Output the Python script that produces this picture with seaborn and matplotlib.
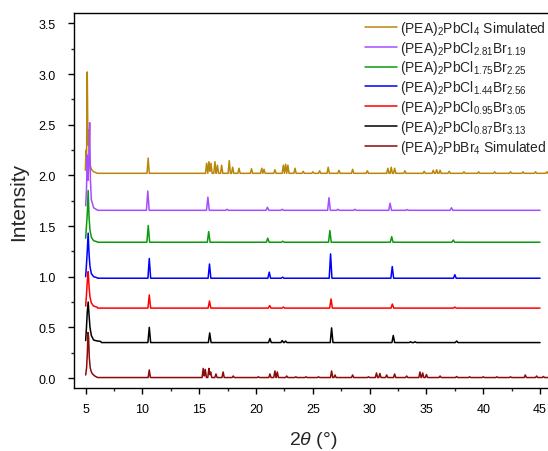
import numpy as np
import pandas as pd
import matplotlib
matplotlib.use("Agg")
import matplotlib.pyplot as plt
import seaborn as sns
from matplotlib.ticker import MultipleLocator, FormatStrFormatter

# ---------------- data ----------------
labels = [
    r"(PEA)$_2$PbCl$_4$ Simulated",
    r"(PEA)$_2$PbCl$_{2.81}$Br$_{1.19}$",
    r"(PEA)$_2$PbCl$_{1.75}$Br$_{2.25}$",
    r"(PEA)$_2$PbCl$_{1.44}$Br$_{2.56}$",
    r"(PEA)$_2$PbCl$_{0.95}$Br$_{3.05}$",
    r"(PEA)$_2$PbCl$_{0.87}$Br$_{3.13}$",
    r"(PEA)$_2$PbBr$_4$ Simulated",
]
colors = ["#B8860B", "#A64DFF", "#0E9A0E", "#0000FF", "#FF0000", "#000000", "#8B0A0A"]

baselines = [2.02, 1.655, 1.34, 0.985, 0.69, 0.35, 0.005]
x_end = [46.5, 45.0, 45.0, 45.0, 45.0, 45.0, 46.5]

# low-angle main reflection (explicit points)
cl4_head_x = [4.97, 5.03, 5.08, 5.14, 5.20, 5.27, 5.32, 5.40, 5.50, 5.70, 6.00]
cl4_head_y = [2.05, 2.25, 2.17, 3.02, 2.30, 2.45, 2.20, 2.10, 2.06, 2.035, 2.022]
s281_head_x = [5.00, 5.07, 5.14, 5.20, 5.27, 5.35, 5.42, 5.50, 5.70, 6.00]
s281_head_y = [1.70, 1.85, 2.20, 1.95, 2.10, 2.52, 1.95, 1.76, 1.68, 1.66]
s175_head_x = [5.00, 5.07, 5.14, 5.22, 5.30, 5.38, 5.50, 5.70, 6.00]
s175_head_y = [1.38, 1.50, 1.62, 1.85, 1.58, 1.46, 1.39, 1.355, 1.345]
s144_head_x = [5.00, 5.07, 5.14, 5.22, 5.30, 5.38, 5.50, 5.70, 6.00]
s144_head_y = [1.00, 1.12, 1.25, 1.43, 1.22, 1.10, 1.03, 1.00, 0.99]
s095_head_x = [5.00, 5.07, 5.14, 5.22, 5.30, 5.38, 5.50, 5.70, 6.00]
s095_head_y = [0.71, 0.82, 0.95, 1.05, 0.90, 0.80, 0.74, 0.71, 0.70]
s087_head_x = [5.00, 5.07, 5.14, 5.22, 5.30, 5.38, 5.50, 5.70, 6.00, 6.30, 6.40]
s087_head_y = [0.37, 0.50, 0.65, 0.75, 0.62, 0.50, 0.42, 0.375, 0.366, 0.362, 0.35]
br4_head_x = [5.00, 5.08, 5.15, 5.20, 5.26, 5.32, 5.40, 5.50, 5.60, 5.80, 6.00]
br4_head_y = [0.03, 0.10, 0.25, 0.45, 0.40, 0.20, 0.10, 0.06, 0.04, 0.02, 0.008]

# other reflections: position (2theta) and apex intensity
cl4_pos = [10.5, 15.65, 15.85, 16.03, 16.38, 16.6, 16.97, 17.64, 17.94, 18.5, 19.6, 20.5,
           20.7, 21.66, 22.4, 22.6, 22.8, 23.43, 24.15, 25.0, 25.6, 26.35, 27.3, 28.5,
           29.8, 31.6, 31.9, 32.2, 33.1, 34.8, 35.6, 35.9, 36.2, 37.0, 38.3, 39.6, 41.0,
           42.4, 43.5, 44.6, 45.6]
cl4_top = [2.17, 2.12, 2.135, 2.12, 2.135, 2.10, 2.10, 2.145, 2.08, 2.07, 2.065, 2.07,
           2.06, 2.055, 2.10, 2.11, 2.10, 2.07, 2.04, 2.035, 2.045, 2.08, 2.05, 2.06,
           2.045, 2.07, 2.08, 2.07, 2.045, 2.04, 2.05, 2.055, 2.05, 2.04, 2.035, 2.035,
           2.035, 2.035, 2.035, 2.035, 2.035]
s281_pos = [10.47, 15.76, 17.45, 21.0, 22.3, 26.42, 27.2, 28.7, 31.8, 33.3, 37.2]
s281_top = [1.845, 1.785, 1.665, 1.685, 1.665, 1.78, 1.665, 1.665, 1.725, 1.662, 1.68]
s175_pos = [10.51, 15.83, 21.03, 22.35, 26.5, 31.94, 37.36]
s175_top = [1.505, 1.445, 1.38, 1.35, 1.455, 1.395, 1.362]
s144_pos = [10.6, 15.9, 21.16, 22.34, 26.56, 31.99, 37.5]
s144_top = [1.18, 1.125, 1.045, 0.995, 1.225, 1.10, 1.02]
s095_pos = [10.6, 15.9, 21.2, 22.4, 26.6, 32.0, 37.5]
s095_top = [0.82, 0.76, 0.715, 0.70, 0.78, 0.73, 0.70]
s087_pos = [10.6, 15.92, 21.22, 22.3, 22.6, 26.65, 32.08, 33.6, 34.0, 37.66]
s087_top = [0.50, 0.445, 0.39, 0.37, 0.365, 0.495, 0.42, 0.358, 0.358, 0.365]
br4_pos = [10.6, 15.35, 15.53, 15.85, 16.0, 16.47, 17.1, 17.99, 20.2, 21.22, 21.66, 21.87,
           22.7, 23.5, 24.4, 25.5, 26.65, 26.95, 28.5, 29.9, 30.6, 30.9, 31.5, 32.2, 33.26,
           34.43, 34.67, 35.0, 36.2, 37.66, 38.8, 40.0, 41.2, 42.4, 43.7, 44.7, 45.3, 46.0]
br4_top = [0.08, 0.095, 0.085, 0.095, 0.06, 0.04, 0.06, 0.02, 0.012, 0.04, 0.07, 0.06,
           0.02, 0.012, 0.012, 0.012, 0.07, 0.03, 0.03, 0.012, 0.05, 0.045, 0.03, 0.04, 0.02,
           0.06, 0.05, 0.035, 0.02, 0.015, 0.012, 0.012, 0.012, 0.012, 0.03, 0.02, 0.015, 0.012]

heads_x = [cl4_head_x, s281_head_x, s175_head_x, s144_head_x, s095_head_x, s087_head_x, br4_head_x]
heads_y = [cl4_head_y, s281_head_y, s175_head_y, s144_head_y, s095_head_y, s087_head_y, br4_head_y]
peak_pos = [cl4_pos, s281_pos, s175_pos, s144_pos, s095_pos, s087_pos, br4_pos]
peak_top = [cl4_top, s281_top, s175_top, s144_top, s095_top, s087_top, br4_top]
half_width = [0.10, 0.12, 0.12, 0.12, 0.12, 0.12, 0.10]


def build_trace(hx, hy, base, pos, top, end, hw):
    """Polyline through the head points, then a spike at each listed reflection."""
    pos = np.asarray(pos, float)
    amp = np.asarray(top, float) - base
    vx = {hx[-1] + 0.05, end}
    for p in pos:
        vx.update([p - hw, p, p + hw])
    vx = np.array(sorted(v for v in vx if hx[-1] < v <= end))
    vy = np.full_like(vx, base)
    for p, a in zip(pos, amp):
        vy = np.maximum(vy, base + a * np.clip(1 - np.abs(vx - p) / hw, 0, None))
    return np.concatenate([hx, vx]), np.concatenate([hy, vy])


frames = []
for i, lab in enumerate(labels):
    x, y = build_trace(heads_x[i], heads_y[i], baselines[i], peak_pos[i], peak_top[i],
                       x_end[i], half_width[i])
    frames.append(pd.DataFrame({"two_theta": x, "Intensity": y, "sample": lab}))
df = pd.concat(frames, ignore_index=True)

# ---------------- style ----------------
sns.set_theme(style="ticks")
plt.rcParams["font.family"] = ["Liberation Sans", "DejaVu Sans"]
plt.rcParams["mathtext.fontset"] = "custom"
plt.rcParams["mathtext.rm"] = "Liberation Sans"
plt.rcParams["mathtext.it"] = "Liberation Sans:italic"
plt.rcParams["mathtext.default"] = "regular"

fig = plt.figure(figsize=(5.48, 4.52), dpi=100)
ax = fig.add_axes([0.1356, 0.139, 0.8706, 0.8296])

sns.lineplot(data=df, x="two_theta", y="Intensity", hue="sample", hue_order=labels,
             palette=colors, estimator=None, sort=False, linewidth=1.1, ax=ax)

ax.set_xlim(4, 46)
ax.set_ylim(-0.1, 3.6)
ax.xaxis.set_major_locator(MultipleLocator(5))
ax.xaxis.set_minor_locator(MultipleLocator(2.5))
ax.yaxis.set_major_locator(MultipleLocator(0.5))
ax.yaxis.set_minor_locator(MultipleLocator(0.25))
ax.yaxis.set_major_formatter(FormatStrFormatter("%.1f"))
ax.tick_params(which="major", direction="out", length=4.5, width=1.0, labelsize=9,
               colors="black")
ax.tick_params(which="minor", direction="out", length=2.5, width=1.0)
ax.tick_params(axis="y", which="major", pad=9)
ax.tick_params(axis="x", which="major", pad=6)
for s in ["left", "bottom", "top"]:
    ax.spines[s].set_linewidth(1.0)
    ax.spines[s].set_color("black")
ax.spines["right"].set_visible(False)

ax.set_xlabel(r"2$\mathit{\theta}$ (°)", fontsize=14, labelpad=10)
ax.set_ylabel("Intensity", fontsize=15, labelpad=7)

handles, labs = ax.get_legend_handles_labels()
ax.legend(handles, labs, loc="upper right", bbox_to_anchor=(0.99, 0.985), frameon=False,
          fontsize=10, handlelength=2.3, handletextpad=0.25, labelspacing=0.13,
          borderaxespad=0, borderpad=0)

fig.savefig("out.png", dpi=100, facecolor="white")
